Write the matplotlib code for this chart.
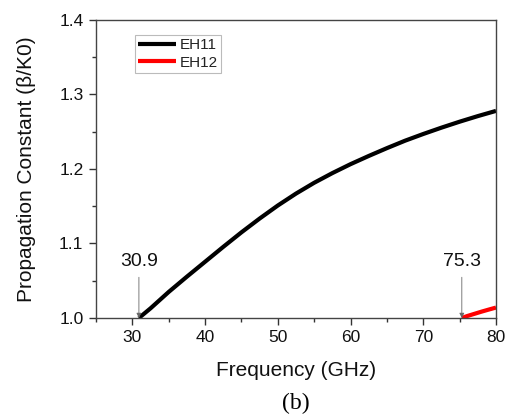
import numpy as np
import matplotlib.pyplot as plt
from matplotlib.ticker import MultipleLocator

# values
freq_eh11 = [30.9, 32.5, 35, 37.5, 40, 42.5, 45, 47.5, 50, 52.5, 55, 57.5,
             60, 62.5, 65, 67.5, 70, 72.5, 75, 77.5, 80]
beta_eh11 = [1.000, 1.013, 1.035, 1.0555, 1.0755, 1.0955, 1.115, 1.1335, 1.151, 1.167,
             1.1815, 1.1945, 1.2065, 1.2175, 1.228, 1.238, 1.247, 1.2555, 1.2635, 1.271, 1.278]
freq_eh12 = [75.3, 76, 77, 78, 79, 80]
beta_eh12 = [1.000, 1.0025, 1.0055, 1.0085, 1.0113, 1.014]
cutoffs = [30.9, 75.3]

plt.rcParams['font.family'] = ['Liberation Sans', 'DejaVu Sans']

fig = plt.figure(figsize=(5.06, 4.16), dpi=100)
ax = fig.add_axes([96 / 506, 1 - 318 / 416, 400 / 506, 298 / 416])

ax.plot(freq_eh11, beta_eh11, color='black', lw=3, label='EH11', solid_capstyle='butt',
        solid_joinstyle='round')
ax.plot(freq_eh12, beta_eh12, color='red', lw=3, label='EH12', solid_capstyle='butt')

ax.set_xlim(25, 80)
ax.set_ylim(1.0, 1.4)
ax.xaxis.set_major_locator(MultipleLocator(10))
ax.xaxis.set_minor_locator(MultipleLocator(5))
ax.yaxis.set_major_locator(MultipleLocator(0.1))
ax.yaxis.set_minor_locator(MultipleLocator(0.05))
ax.tick_params(which='major', direction='out', length=5, width=1, labelsize=12.5,
               colors='#333333', labelcolor='#111111', pad=4)
ax.tick_params(which='minor', direction='out', length=3, width=1, colors='#333333')
ax.tick_params(top=False, right=False)
for s in ax.spines.values():
    s.set_color('#444444')
    s.set_linewidth(1)

ax.set_xlabel('Frequency (GHz)', fontsize=15, labelpad=11, color='#111111')
ax.set_ylabel('Propagation Constant (\u03b2/K0)', fontsize=15, labelpad=17, color='#111111')

# cut-off annotations
for fc in cutoffs:
    ax.annotate(f'{fc}', xy=(fc, 1.0), xytext=(fc, 1.064), ha='center', va='bottom',
                fontsize=14, color='#111111',
                arrowprops=dict(arrowstyle='-|>', color='#666666', lw=0.6,
                                mutation_scale=7, shrinkA=3, shrinkB=0))

leg = ax.legend(loc='upper left', bbox_to_anchor=(0.0975, 0.95), fontsize=11,
                frameon=True, fancybox=False, edgecolor='#aaaaaa',
                handlelength=2.5, handletextpad=0.25, borderpad=0.2,
                labelspacing=0.25, borderaxespad=0)
leg.get_frame().set_linewidth(0.8)
for t in leg.get_texts():
    t.set_color('#222222')

fig.text(296 / 506, 1 - 403 / 416, '(b)', ha='center', va='center', fontsize=17,
         family=['Liberation Serif', 'DejaVu Serif'])

fig.savefig('out.png', dpi=100)
